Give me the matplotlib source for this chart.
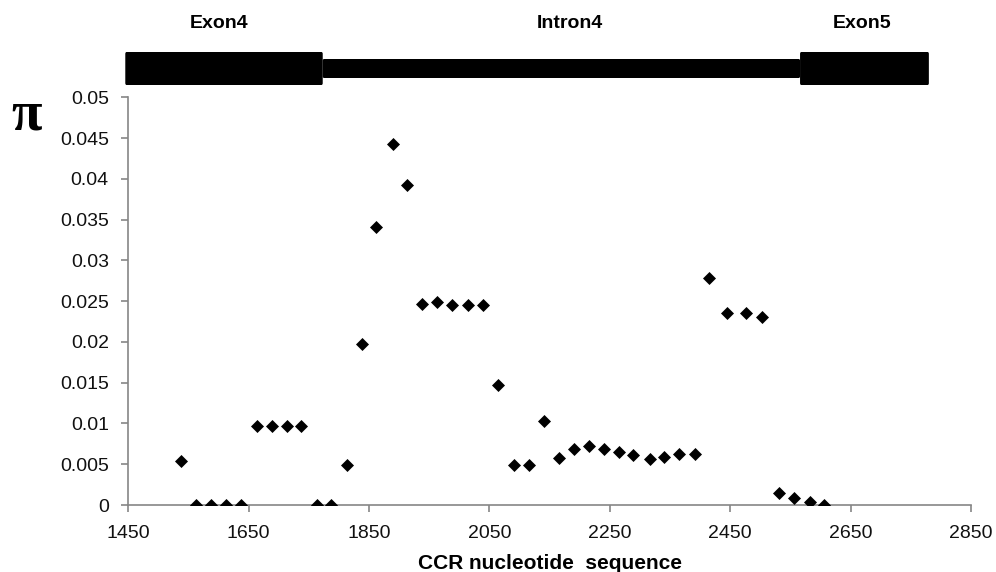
import matplotlib
matplotlib.use("Agg")
import matplotlib.pyplot as plt
from matplotlib.patches import FancyBboxPatch

# Data
positions = [1537, 1562, 1588, 1613, 1638, 1663, 1689, 1714, 1737, 1763,
             1787, 1813, 1838, 1862, 1889, 1913, 1938, 1963, 1988, 2014,
             2040, 2064, 2090, 2116, 2140, 2165, 2190, 2215, 2240, 2265,
             2289, 2317, 2340, 2365, 2391, 2415, 2445, 2477, 2502, 2531,
             2556, 2583, 2606]
pi_values = [0.0054, 0.0, 0.0, 0.0, 0.0, 0.0097, 0.0097, 0.0097, 0.0097, 0.0,
             0.0, 0.0049, 0.0197, 0.0341, 0.0443, 0.0393, 0.0246, 0.0249, 0.0245, 0.0245,
             0.0245, 0.0147, 0.0049, 0.0049, 0.0103, 0.0058, 0.0069, 0.0072, 0.0069, 0.0065,
             0.0061, 0.0056, 0.0059, 0.0063, 0.0063, 0.0279, 0.0235, 0.0235, 0.0231, 0.0015,
             0.0008, 0.0004, 0.0]
x_ticks = [1450, 1650, 1850, 2050, 2250, 2450, 2650, 2850]
y_ticks = [0, 0.005, 0.01, 0.015, 0.02, 0.025, 0.03, 0.035, 0.04, 0.045, 0.05]
y_tick_labels = ["0", "0.005", "0.01", "0.015", "0.02", "0.025", "0.03", "0.035", "0.04", "0.045", "0.05"]

# Gene structure (region name, start, end, kind)
regions = ["Exon4", "Intron4", "Exon5"]
region_start = [1445, 1773, 2566]
region_end = [1773, 2566, 2780]
region_kind = ["exon", "intron", "exon"]
label_x = [1601, 2184, 2669]

W, H = 996, 572
fig = plt.figure(figsize=(W / 100, H / 100), dpi=100)
plt.rcParams['font.family'] = ['Liberation Sans', 'DejaVu Sans']

gray = "#868686"
ax = fig.add_axes([128.3 / W, 1 - 505 / H, (971 - 128.3) / W, (505 - 97.3) / H])
ax.scatter(positions, pi_values, marker="D", s=44, color="black", zorder=3, linewidths=0)
ax.set_xlim(1450, 2850)
ax.set_ylim(0, 0.05)
ax.set_xticks(x_ticks)
ax.set_xticklabels([str(t) for t in x_ticks])
ax.set_yticks(y_ticks)
ax.set_yticklabels(y_tick_labels)
for s in ["top", "right"]:
    ax.spines[s].set_visible(False)
for s in ["left", "bottom"]:
    ax.spines[s].set_color(gray)
    ax.spines[s].set_linewidth(1.2)
ax.tick_params(axis="both", direction="out", length=5, width=1.2, color=gray,
               labelsize=14, labelcolor="#111111")
ax.tick_params(axis="x", pad=9.5)
ax.tick_params(axis="y", pad=9)
ax.set_xlabel("CCR nucleotide  sequence", fontsize=15, fontweight="bold", labelpad=8.5)
fig.text(27 / W, 1 - 116 / H, "π", fontsize=40, fontweight="bold",
         family=["Liberation Serif", "DejaVu Serif"], ha="center", va="center")

# Gene diagram axes
gax = fig.add_axes([128.3 / W, 1 - 95 / H, (971 - 128.3) / W, 95 / H])
gax.set_xlim(1450, 2850)
gax.set_ylim(95, 0)
gax.axis("off")
for name, st, en, kind in zip(regions, region_start, region_end, region_kind):
    if kind == "exon":
        y0, y1 = 52, 85
    else:
        y0, y1 = 59, 78
    p = FancyBboxPatch((st, y0), en - st, y1 - y0,
                       boxstyle="round,pad=0,rounding_size=2",
                       facecolor="black", edgecolor="black", lw=0,
                       mutation_aspect=1, clip_on=False, zorder=2 if kind == "exon" else 1)
    gax.add_patch(p)
for name, lx in zip(regions, label_x):
    gax.text(lx, 23, name, ha="center", va="center", fontsize=14, fontweight="bold")

fig.savefig("out.png", dpi=100)
